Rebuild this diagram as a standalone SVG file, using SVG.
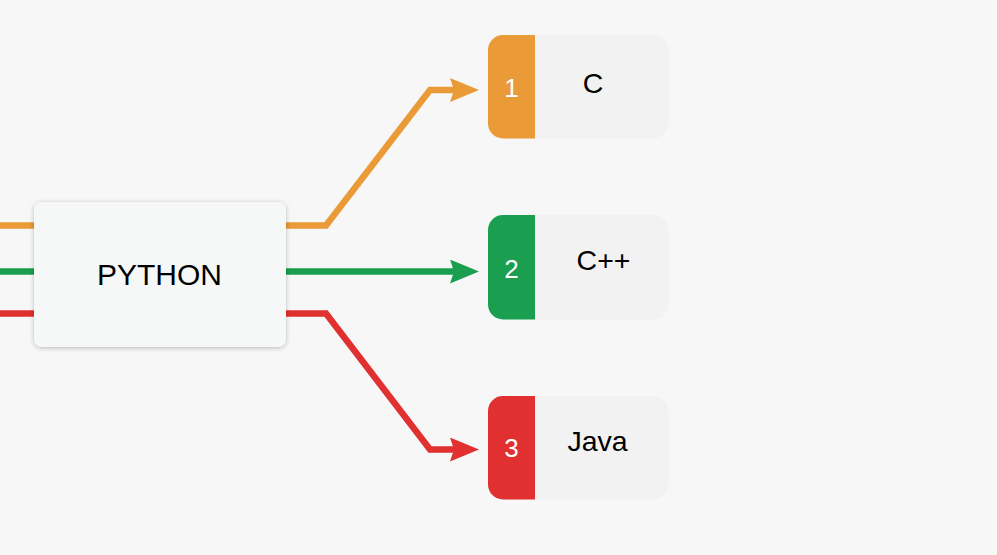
<svg xmlns="http://www.w3.org/2000/svg" width="997" height="555" viewBox="0 0 997 555">
  <style>
    .conn { fill: none; stroke-width: 6.5; stroke-linejoin: miter; }
    .lbl { font-family: "Liberation Sans", Arial, sans-serif; font-size: 28.5px; fill: #000; text-anchor: middle; }
    .num { font-family: "Liberation Sans", Arial, sans-serif; font-size: 26px; fill: #fff; text-anchor: middle; }
    .body { fill: #f2f2f2; }
  </style>
  <defs>
    <filter id="sh" x="-10%" y="-10%" width="120%" height="130%">
      <feDropShadow dx="0" dy="1" stdDeviation="2.5" flood-color="#000" flood-opacity="0.25"/>
    </filter>
    <marker id="aO" viewBox="0 0 29 24" refX="10" refY="12" markerWidth="29" markerHeight="24" markerUnits="userSpaceOnUse" orient="auto">
      <path d="M0,0 L29,12 L0,24 L4,12 Z" fill="#EA9A36"/>
    </marker>
    <marker id="aG" viewBox="0 0 29 24" refX="10" refY="12" markerWidth="29" markerHeight="24" markerUnits="userSpaceOnUse" orient="auto">
      <path d="M0,0 L29,12 L0,24 L4,12 Z" fill="#1A9E4F"/>
    </marker>
    <marker id="aR" viewBox="0 0 29 24" refX="10" refY="12" markerWidth="29" markerHeight="24" markerUnits="userSpaceOnUse" orient="auto">
      <path d="M0,0 L29,12 L0,24 L4,12 Z" fill="#E03030"/>
    </marker>
  </defs>
  <rect width="997" height="555" fill="#f7f7f7"/>
  <g id="connectors">
    <path class="conn" stroke="#EA9A36" d="M0,225.5 H326 L430,90 H460" marker-end="url(#aO)"/>
    <path class="conn" stroke="#1A9E4F" d="M0,271.5 H460" marker-end="url(#aG)"/>
    <path class="conn" stroke="#E03030" d="M0,313.5 H326 L430,449.5 H460" marker-end="url(#aR)"/>
  </g>
  <g id="python">
    <rect x="34" y="202" width="252" height="145" rx="8" fill="#f6f8f8" filter="url(#sh)"/>
    <text class="lbl" x="159.5" y="285" style="font-size:30px">PYTHON</text>
  </g>
  <g id="node-c">
    <rect class="body" x="488" y="35" width="180.5" height="103.5" rx="15"/>
    <path d="M503,35 H535 V138.5 H503 A15,15 0 0 1 488,123.5 V50 A15,15 0 0 1 503,35 Z" fill="#EA9A36"/>
    <text class="num" x="511.5" y="97">1</text>
    <text class="lbl" x="593" y="93">C</text>
  </g>
  <g id="node-cpp">
    <rect class="body" x="488" y="215" width="180.5" height="104.5" rx="15"/>
    <path d="M503,215 H535 V319.5 H503 A15,15 0 0 1 488,304.5 V230 A15,15 0 0 1 503,215 Z" fill="#1A9E4F"/>
    <text class="num" x="511.5" y="278">2</text>
    <text class="lbl" x="603.5" y="270">C++</text>
  </g>
  <g id="node-java">
    <rect class="body" x="488" y="396" width="180.5" height="103.5" rx="15"/>
    <path d="M503,396 H535 V499.5 H503 A15,15 0 0 1 488,484.5 V411 A15,15 0 0 1 503,396 Z" fill="#E03030"/>
    <text class="num" x="511.5" y="457">3</text>
    <text class="lbl" x="597.5" y="451">Java</text>
  </g>
</svg>
